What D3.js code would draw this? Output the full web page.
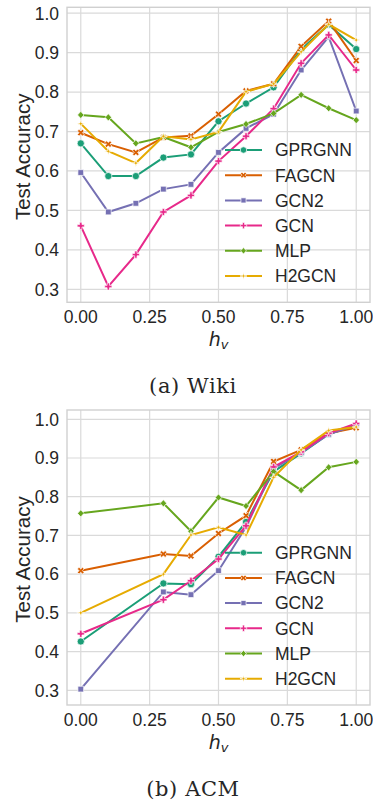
<!DOCTYPE html>
<html>
<head>
<meta charset="utf-8">
<script src="https://cdn.jsdelivr.net/npm/d3@7"></script>
<style>
  body { margin: 0; background: #fff; }
  svg { display: block; }
  text { fill: #262626; font-family: "Liberation Sans", Arial, sans-serif; }
</style>
</head>
<body>
<div class="vis-container"></div>
<script>
// data
const methods = ['GPRGNN', 'FAGCN', 'GCN2', 'GCN', 'MLP', 'H2GCN'];

const hWiki = [0, 0.1, 0.2, 0.3, 0.4, 0.5, 0.6, 0.7, 0.8, 0.9, 1.0];
const wikiGPRGNN = [0.670, 0.587, 0.587, 0.634, 0.642, 0.726, 0.771, 0.812, 0.908, 0.971, 0.909];
const wikiFAGCN = [0.697, 0.668, 0.647, 0.685, 0.689, 0.744, 0.803, 0.821, 0.916, 0.980, 0.880];
const wikiGCN2 = [0.596, 0.496, 0.518, 0.554, 0.566, 0.647, 0.708, 0.744, 0.856, 0.940, 0.752];
const wikiGCN = [0.461, 0.307, 0.388, 0.496, 0.538, 0.625, 0.688, 0.758, 0.873, 0.945, 0.856];
const wikiMLP = [0.742, 0.736, 0.670, 0.686, 0.660, 0.699, 0.719, 0.746, 0.793, 0.759, 0.729];
const wikiH2GCN = [0.720, 0.650, 0.620, 0.688, 0.680, 0.699, 0.801, 0.821, 0.902, 0.972, 0.932];

const hACM = [0, 0.3, 0.4, 0.5, 0.6, 0.7, 0.8, 0.9, 1.0];
const acmGPRGNN = [0.426, 0.576, 0.574, 0.645, 0.735, 0.865, 0.912, 0.962, 0.983];
const acmFAGCN = [0.609, 0.652, 0.647, 0.705, 0.751, 0.891, 0.921, 0.964, 0.978];
const acmGCN2 = [0.303, 0.554, 0.547, 0.609, 0.722, 0.873, 0.914, 0.961, 0.985];
const acmGCN = [0.446, 0.534, 0.583, 0.639, 0.725, 0.877, 0.916, 0.964, 0.989];
const acmMLP = [0.757, 0.783, 0.711, 0.798, 0.776, 0.865, 0.817, 0.876, 0.890];
const acmH2GCN = [0.500, 0.600, 0.701, 0.721, 0.701, 0.850, 0.921, 0.971, 0.980];

const xTicks = [0, 0.25, 0.5, 0.75, 1.0];
const yTicks = [0.3, 0.4, 0.5, 0.6, 0.7, 0.8, 0.9, 1.0];

const COLORS = ['#1b9e77', '#d95f02', '#7570b3', '#e7298a', '#66a61e', '#e6ab02'];
const MARKERS = ['circle', 'x', 'square', 'plus', 'diamond', 'star'];

// marker shapes, roughly like matplotlib's o, X, s, P, D and the 4-point star
function markerPath(kind, s) {
  const pts = [];
  if (kind === 'circle') {
    return d3.symbol().type(d3.symbolCircle).size(Math.PI * s * s)();
  }
  if (kind === 'plus' || kind === 'x') {
    const a = s / 3;
    const raw = [[-a, -s], [-a, -a], [-s, -a], [-s, a], [-a, a], [-a, s],
      [a, s], [a, a], [s, a], [s, -a], [a, -a], [a, -s]];
    const r = kind === 'x' ? Math.PI / 4 : 0;
    raw.forEach(([px, py]) => pts.push([px * Math.cos(r) - py * Math.sin(r), px * Math.sin(r) + py * Math.cos(r)]));
  } else if (kind === 'square') {
    const a = s * 0.8;
    pts.push([-a, -a], [a, -a], [a, a], [-a, a]);
  } else if (kind === 'diamond') {
    pts.push([0, -s], [s * 0.9, 0], [0, s], [-s * 0.9, 0]);
  } else if (kind === 'star') {
    for (let i = 0; i < 8; i++) {
      const ang = i * Math.PI / 4 - Math.PI / 2;
      const r = i % 2 ? s * 0.3 : s * 1.1;
      pts.push([r * Math.cos(ang), r * Math.sin(ang)]);
    }
  }
  return 'M' + pts.map(p => p.join(',')).join('L') + 'Z';
}

document.addEventListener('DOMContentLoaded', () => {
  const width = 373;
  const height = 801;
  const svg = d3.select('.vis-container').append('svg')
    .attr('width', width)
    .attr('height', height);

  buildPanel(svg, {
    top: 7.3, bottom: 302.3, yDomain: [0.267, 1.015],
    xs: hWiki,
    series: [wikiGPRGNN, wikiFAGCN, wikiGCN2, wikiGCN, wikiMLP, wikiH2GCN],
    caption: '(a) Wiki'
  });
  buildPanel(svg, {
    top: 410, bottom: 705, yDomain: [0.262, 1.024],
    xs: hACM,
    series: [acmGPRGNN, acmFAGCN, acmGCN2, acmGCN, acmMLP, acmH2GCN],
    caption: '(b) ACM'
  });
});

function buildPanel(svg, opt) {
  const left = 67;
  const right = 370;
  const x = d3.scaleLinear().domain([-0.05, 1.05]).range([left, right]);
  const y = d3.scaleLinear().domain(opt.yDomain).range([opt.bottom, opt.top]);
  const g = svg.append('g');

  // grid
  g.selectAll('.vgrid').data(xTicks)
    .enter().append('line')
      .attr('x1', d => x(d)).attr('x2', d => x(d))
      .attr('y1', opt.top).attr('y2', opt.bottom)
      .attr('stroke', '#dadada').attr('stroke-width', 1.2);
  g.selectAll('.hgrid').data(yTicks)
    .enter().append('line')
      .attr('x1', left).attr('x2', right)
      .attr('y1', d => y(d)).attr('y2', d => y(d))
      .attr('stroke', '#dadada').attr('stroke-width', 1.2);
  g.append('rect')
    .attr('x', left).attr('y', opt.top)
    .attr('width', right - left).attr('height', opt.bottom - opt.top)
    .attr('fill', 'none').attr('stroke', '#d0d0d0').attr('stroke-width', 1.4);

  // tick labels
  g.selectAll('.xlab').data(xTicks)
    .enter().append('text')
      .attr('x', d => x(d))
      .attr('y', opt.bottom + 21)
      .attr('text-anchor', 'middle')
      .style('font-size', '17.5px')
      .text(d3.format('.2f'));
  g.selectAll('.ylab').data(yTicks)
    .enter().append('text')
      .attr('x', 59)
      .attr('y', d => y(d))
      .attr('dy', '0.36em')
      .attr('text-anchor', 'end')
      .style('font-size', '17.5px')
      .text(d3.format('.1f'));

  // axis titles
  const mid = (opt.top + opt.bottom) / 2;
  g.append('text')
    .attr('transform', `translate(30, ${mid + 2}) rotate(-90)`)
    .attr('text-anchor', 'middle')
    .style('font-size', '20.5px')
    .text('Test Accuracy');
  const hv = g.append('text')
    .attr('x', (x(0) + x(1)) / 2)
    .attr('y', opt.bottom + 43.5)
    .attr('text-anchor', 'middle')
    .style('font-family', '"DejaVu Sans", sans-serif')
    .style('font-style', 'italic')
    .style('font-size', '19px');
  hv.append('tspan').text('h');
  hv.append('tspan').attr('dy', 3).style('font-size', '13px').text('v');

  // caption
  g.append('text')
    .attr('x', 193)
    .attr('y', opt.bottom + 91)
    .attr('text-anchor', 'middle')
    .style('font-family', '"DejaVu Serif", serif')
    .style('font-size', '21px')
    .style('letter-spacing', '0.6px')
    .text(opt.caption);

  // lines and markers
  const line = d3.line().x(d => x(d[0])).y(d => y(d[1]));
  opt.series.forEach((vals, i) => {
    const pts = opt.xs.map((h, j) => [h, vals[j]]);
    g.append('path')
      .datum(pts)
      .attr('d', line)
      .attr('fill', 'none')
      .attr('stroke', COLORS[i])
      .attr('stroke-width', 2);
    g.selectAll('.m' + i).data(pts)
      .enter().append('path')
        .attr('transform', d => `translate(${x(d[0])}, ${y(d[1])})`)
        .attr('d', markerPath(MARKERS[i], 3.6))
        .attr('fill', COLORS[i])
        .attr('stroke', '#fff')
        .attr('stroke-width', 0.7);
  });

  // legend
  const leg = g.append('g').attr('transform', `translate(0, ${opt.top + 142.7})`);
  methods.forEach((name, i) => {
    const row = leg.append('g').attr('transform', `translate(0, ${i * 25.2})`);
    row.append('line')
      .attr('x1', 225).attr('x2', 262)
      .attr('stroke', COLORS[i]).attr('stroke-width', 2);
    row.append('path')
      .attr('transform', 'translate(243.5, 0)')
      .attr('d', markerPath(MARKERS[i], 3.2))
      .attr('fill', COLORS[i])
      .attr('stroke', '#fff')
      .attr('stroke-width', 0.7);
    row.append('text')
      .attr('x', 275)
      .attr('dy', '0.36em')
      .style('font-size', '17.5px')
      .text(name);
  });
}
</script>
</body>
</html>
